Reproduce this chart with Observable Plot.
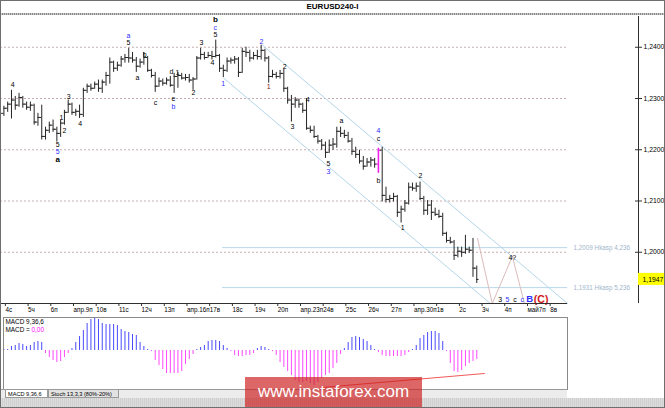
<!DOCTYPE html>
<html><head><meta charset="utf-8">
<script src="https://cdn.jsdelivr.net/npm/d3@7"></script>
<script src="https://cdn.jsdelivr.net/npm/@observablehq/plot@0.6"></script>
<style>
html,body{margin:0;padding:0;background:#fff}
#wrap{position:relative;width:665px;height:408px;overflow:hidden;background:#fff;font-family:"Liberation Sans",Arial,sans-serif}
#title{position:absolute;left:0;top:0;width:665px;height:13px;line-height:13px;text-align:center;font-weight:bold;font-size:8px;color:#000}
#sep{position:absolute;left:0;top:13px;width:665px;height:2px;background:repeating-linear-gradient(90deg,#8a8a8a 0 1px,#c4c4c4 1px 2px)}
#main{position:absolute;left:0;top:16px}
#macd{position:absolute;left:0;top:316px}
#tabs{position:absolute;left:0;top:389px;width:567px;height:9px;background:#ececec;border-top:1px solid #9a9a9a;box-sizing:border-box}
.tab{position:absolute;top:0;height:8px;line-height:8px;font-size:5.6px;color:#000;padding:0 2px;box-sizing:border-box;border:1px solid #9a9a9a;border-top:none}
#bottom{position:absolute;left:0;top:398px;width:665px;height:10px;background:repeating-linear-gradient(90deg,#cfcfcf 0 1px,#dedede 1px 2px)}
#wm{position:absolute;left:245px;top:377px;width:177px;height:31px;background:rgba(205,30,30,0.68);color:#fff;font-size:17px;line-height:30px;text-align:center;font-family:"Liberation Sans",Arial,sans-serif}
#border{position:absolute;left:0;top:0;width:665px;height:408px;border:1px solid #6e6e6e;box-sizing:border-box;pointer-events:none}
svg{display:block}
</style></head>
<body>
<div id="wrap">
  <div id="title">EURUSD240-I</div>
  <div id="sep"></div>
  <div id="main"></div>
  <div id="macd"></div>
  <div id="tabs">
    <div class="tab" style="left:5px;width:43px;background:#fff">MACD 9,36,6</div>
    <div class="tab" style="left:48px;width:71px;background:#e2e2e2">Stoch 13,3,3 (80%-20%)</div>
  </div>
  <div id="bottom"></div>
  <div id="wm">www.instaforex.com</div>
  <div id="border"></div>
</div>
<script>
// ---------- DATA ----------
const dayLabels = ["4с","5ч","6п","апр.9п","10в","11с","12ч","13п","апр.16п","17в","18с","19ч","20п","апр.23п","24в","25с","26ч","27п","апр.30п","1в","2с","3ч","4п","май7п","8в"];
const barsPerDay = 6;

const open = [1.2271,1.2281,1.2289,1.2297,1.2287,1.2302,1.2289,1.2283,1.2287,1.2254,
 1.2263,1.2226,1.2238,1.2248,1.2240,1.2232,1.2252,1.2273,1.2289,1.2273,
 1.2275,1.2269,1.2316,1.2324,1.2320,1.2328,1.2320,1.2332,1.2345,1.2371,
 1.2359,1.2365,1.2377,1.2380,1.2379,1.2375,1.2363,1.2371,1.2380,1.2355,
 1.2345,1.2324,1.2334,1.2330,1.2336,1.2326,1.2343,1.2345,1.2340,1.2341,
 1.2336,1.2338,1.2379,1.2386,1.2380,1.2384,1.2382,1.2384,1.2359,1.2355,
 1.2373,1.2375,1.2377,1.2351,1.2392,1.2390,1.2379,1.2384,1.2382,1.2394,
 1.2379,1.2343,1.2347,1.2343,1.2349,1.2320,1.2297,1.2289,1.2297,1.2289,
 1.2277,1.2242,1.2238,1.2226,1.2217,1.2209,1.2195,1.2209,1.2211,1.2236,
 1.2232,1.2228,1.2217,1.2197,1.2191,1.2178,1.2168,1.2176,1.2180,1.2172,
 1.2199,1.2111,1.2103,1.2105,1.2109,1.2078,1.2084,1.2096,1.2127,1.2125,
 1.2129,1.2105,1.2082,1.2092,1.2078,1.2074,1.2070,1.2037,1.2023,1.2020,
 1.1994,1.2002,1.2000,1.2006,1.2004,1.1969];
const high = [1.2285,1.2293,1.2316,1.2304,1.2310,1.2304,1.2293,1.2293,1.2289,1.2271,
 1.2287,1.2244,1.2254,1.2258,1.2244,1.2258,1.2277,1.2297,1.2291,1.2279,
 1.2287,1.2320,1.2328,1.2328,1.2332,1.2336,1.2336,1.2351,1.2379,1.2373,
 1.2371,1.2382,1.2386,1.2398,1.2390,1.2380,1.2377,1.2390,1.2382,1.2357,
 1.2351,1.2340,1.2338,1.2340,1.2343,1.2349,1.2351,1.2349,1.2347,1.2347,
 1.2341,1.2382,1.2398,1.2390,1.2390,1.2392,1.2414,1.2386,1.2365,1.2379,
 1.2379,1.2382,1.2380,1.2398,1.2400,1.2394,1.2390,1.2394,1.2404,1.2396,
 1.2382,1.2355,1.2351,1.2355,1.2357,1.2322,1.2306,1.2302,1.2299,1.2291,
 1.2300,1.2246,1.2246,1.2228,1.2220,1.2215,1.2219,1.2222,1.2244,1.2244,
 1.2238,1.2234,1.2222,1.2205,1.2199,1.2187,1.2183,1.2185,1.2183,1.2203,
 1.2205,1.2127,1.2111,1.2115,1.2111,1.2090,1.2101,1.2135,1.2135,1.2135,
 1.2137,1.2109,1.2101,1.2101,1.2086,1.2082,1.2076,1.2039,1.2029,1.2023,
 1.2010,1.2010,1.2033,1.2010,1.2027,1.1973];
const low = [1.2265,1.2273,1.2260,1.2277,1.2283,1.2281,1.2277,1.2275,1.2248,1.2246,
 1.2219,1.2219,1.2232,1.2234,1.2215,1.2224,1.2248,1.2271,1.2267,1.2265,
 1.2261,1.2263,1.2310,1.2314,1.2318,1.2312,1.2310,1.2324,1.2328,1.2351,
 1.2353,1.2361,1.2369,1.2369,1.2369,1.2351,1.2359,1.2365,1.2351,1.2340,
 1.2312,1.2322,1.2324,1.2326,1.2322,1.2310,1.2320,1.2336,1.2334,1.2330,
 1.2316,1.2336,1.2375,1.2375,1.2379,1.2375,1.2379,1.2351,1.2341,1.2351,
 1.2367,1.2367,1.2341,1.2349,1.2380,1.2371,1.2375,1.2375,1.2375,1.2371,
 1.2330,1.2340,1.2338,1.2338,1.2312,1.2289,1.2254,1.2281,1.2281,1.2271,
 1.2238,1.2232,1.2222,1.2211,1.2199,1.2183,1.2193,1.2199,1.2203,1.2224,
 1.2222,1.2213,1.2189,1.2183,1.2172,1.2160,1.2166,1.2166,1.2164,1.2154,
 1.2098,1.2096,1.2096,1.2098,1.2068,1.2057,1.2078,1.2092,1.2119,1.2117,
 1.2101,1.2072,1.2072,1.2062,1.2070,1.2066,1.2031,1.2018,1.2016,1.1984,
 1.1989,1.1990,1.1996,1.1998,1.1951,1.1939];
const close = [1.2281,1.2289,1.2297,1.2287,1.2302,1.2289,1.2283,1.2287,1.2254,1.2263,
 1.2226,1.2238,1.2248,1.2240,1.2232,1.2252,1.2273,1.2289,1.2273,1.2275,
 1.2269,1.2316,1.2324,1.2320,1.2328,1.2320,1.2332,1.2345,1.2371,1.2359,
 1.2365,1.2377,1.2380,1.2379,1.2375,1.2363,1.2371,1.2380,1.2355,1.2345,
 1.2324,1.2334,1.2330,1.2336,1.2326,1.2343,1.2345,1.2340,1.2341,1.2336,
 1.2338,1.2379,1.2386,1.2380,1.2384,1.2382,1.2384,1.2359,1.2355,1.2373,
 1.2375,1.2377,1.2351,1.2392,1.2390,1.2379,1.2384,1.2382,1.2394,1.2379,
 1.2343,1.2347,1.2343,1.2349,1.2320,1.2297,1.2289,1.2297,1.2289,1.2277,
 1.2242,1.2238,1.2226,1.2217,1.2209,1.2195,1.2209,1.2211,1.2236,1.2232,
 1.2228,1.2217,1.2197,1.2191,1.2178,1.2168,1.2176,1.2180,1.2172,1.2199,
 1.2111,1.2103,1.2105,1.2109,1.2078,1.2084,1.2096,1.2127,1.2125,1.2129,
 1.2105,1.2082,1.2092,1.2078,1.2074,1.2070,1.2037,1.2023,1.2020,1.1994,
 1.2002,1.2000,1.2006,1.2004,1.1969,1.1947];
const highlightBars = [99];

// MACD histogram (×0.00001 price units)
const macdHist = [1,1,4,5,7,6,4,5,8,9,
 8,-3,-7,-10,-12,-11,-7,-3,2,8,
 14,20,27,31,32,31,27,26,26,26,
 25,21,19,18,16,15,8,4,1,-1,
 -10,-15,-19,-23,-23,-23,-23,-21,-14,-9,
 -4,1,3,5,9,10,10,9,5,2,
 -1,-5,-6,-6,-5,-5,-3,2,4,3,
 1,-1,-5,-12,-17,-21,-25,-30,-32,-32,
 -31,-33,-35,-32,-28,-25,-23,-18,-13,-4,
 2,8,13,14,13,11,9,5,1,-2,
 -5,-6,-6,-6,-6,-6,-5,-2,1,5,
 12,15,18,19,19,17,9,-1,-13,-21,
 -22,-20,-16,-13,-11,-9];
const macdTrendBar = [84, 127];
const macdTrendVal = [-37, -23];

const priceTicks = [1.2000, 1.2100, 1.2200, 1.2300, 1.2400];
const fibLevels = [1.2009, 1.1931];
const fibLabels = ["1,2009 Hkasp 4,236", "1,1931 Hkasp 5,236"];
const fibStartBar = 57.8;
const chartEndBar = 149;

const channelUpperBar = [68.35, 148.97], channelUpperPrice = [1.2404, 1.1900];
const channelLowerBar = [58.05, 128.6], channelLowerPrice = [1.2340, 1.1900];
const zigzagBar = [125.2, 129.1, 134.4, 137.6];
const zigzagPrice = [1.2027, 1.1900, 1.1992, 1.1900];

const waveText  = ["4","5","5","a","1","2","3","4","a","5","b","a","c","d","e","b","1","2","3","4","5","c","b","1","2","1","2","3","4","5","3","a","4","c","b","1","2","4?","3","5","c","c","B","(C)"];
const waveBar   = [2.3,14.2,14.2,14.2,15.2,16.0,17.1,20.2,32.9,32.9,37.2,35.3,40.1,44.3,44.8,44.8,45.9,50.1,52.2,55.1,55.9,55.9,55.9,58.0,68.1,70.0,74.2,76.3,80.3,85.8,85.8,89.2,99.0,99.0,99.0,105.4,110.1,134.4,131.2,133.1,135.1,137.0,139.0,142.0];
const wavePrice = [1.2326,1.2210,1.2196,1.2181,1.2263,1.2238,1.2304,1.2250,1.2422,1.2408,1.2386,1.2340,1.2291,1.2353,1.2300,1.2283,1.2351,1.2312,1.2408,1.2369,1.2425,1.2439,1.2454,1.2328,1.2410,1.2322,1.2361,1.2244,1.2297,1.2173,1.2158,1.2256,1.2237,1.2222,1.2139,1.2047,1.2150,1.1990,1.1908,1.1908,1.1908,1.1908,1.1908,1.1908];
const waveKind  = ["k","k","blue","kb","k","k","k","k","blue","k","k","k","k","k","k","blue","k","k","k","k","k","blue","kb","blue","blue","dred","k","k","k","k","blue","k","blue","k","k","k","k","k","k","blue","k","blue","blueb","red"];

// ---------- BUILD ----------
const fmt = d => d.toFixed(4).replace(".", ",");
const bars = close.map((c, i) => ({i, o: open[i], h: high[i], l: low[i], c}));
const barColor = d => highlightBars.includes(d.i) ? "#f020f0" : "#262626";
const labels = waveText.map((t, k) => ({t, i: waveBar[k], p: wavePrice[k], kind: waveKind[k]}));
const kindColor = {k: "#000000", kb: "#000000", blue: "#2f2fff", blueb: "#2f2fff", dred: "#8a1c1c", red: "#d01818"};
const kindSize = {k: 7, kb: 8, blue: 7, blueb: 9.5, dred: 7, red: 10.5};
const isBold = d => d.kind === "kb" || d.kind === "blueb" || d.kind === "red";
const upper = channelUpperBar.map((b, k) => ({i: b, p: channelUpperPrice[k]}));
const lower = channelLowerBar.map((b, k) => ({i: b, p: channelLowerPrice[k]}));
const zig = zigzagBar.map((b, k) => ({i: b, p: zigzagPrice[k]}));
const fibs = fibLevels.map((p, k) => ({p, label: fibLabels[k]}));
const dayTicks = dayLabels.map((_, d) => d * barsPerDay);
const lastClose = close[close.length - 1];

const xDom = [-0.9, 167.75];
const yDom = [1.19, 1.246];
const pxPerBar = 638 / (xDom[1] - xDom[0]);
const pxPerPrice = 287 / (yDom[1] - yDom[0]);
const font = "Liberation Sans, Arial, sans-serif";

const main = Plot.plot({
  width: 665, height: 300,
  marginTop: 0, marginBottom: 13, marginLeft: 0, marginRight: 27,
  x: {domain: xDom, axis: null, label: null},
  y: {domain: yDom, axis: null, label: null},
  color: {type: "identity"},
  style: {fontFamily: font, background: "transparent", color: "#000"},
  marks: [
    Plot.ruleY(priceTicks, {x1: xDom[0], x2: chartEndBar, stroke: "#c6aeae", strokeDasharray: "2,2"}),
    Plot.ruleY(fibs, {y: "p", x1: fibStartBar, x2: chartEndBar, stroke: "#b8d8ea", strokeWidth: 1}),
    Plot.line(upper, {x: "i", y: "p", stroke: "#b4d6ea", strokeWidth: 1}),
    Plot.line(lower, {x: "i", y: "p", stroke: "#b4d6ea", strokeWidth: 1}),
    Plot.line(zig, {x: "i", y: "p", stroke: "#dcbcbc", strokeWidth: 1}),
    Plot.ruleX(bars, {x: "i", y1: "l", y2: "h", stroke: barColor, strokeWidth: d => highlightBars.includes(d.i) ? 1.6 : 1}),
    Plot.ruleY(bars, {y: "o", x1: d => d.i - 0.6, x2: "i", stroke: barColor}),
    Plot.ruleY(bars, {y: "c", x1: "i", x2: d => d.i + 0.6, stroke: barColor}),
    Plot.text(fibs, {x: chartEndBar, y: "p", text: "label", textAnchor: "start", dx: 6, fill: "#9fb6cc", fontSize: 6.3}),
    Plot.text(labels.filter(d => !isBold(d)), {x: "i", y: "p", text: "t", fill: d => kindColor[d.kind], fontSize: d => kindSize[d.kind]}),
    Plot.text(labels.filter(isBold), {x: "i", y: "p", text: "t", fill: d => kindColor[d.kind], fontSize: d => kindSize[d.kind], fontWeight: "bold"}),
    Plot.ruleY([yDom[0]], {x1: xDom[0], x2: chartEndBar, stroke: "#303030"}),
    Plot.axisX({ticks: dayTicks, anchor: "bottom", label: null, tickSize: 3, tickPadding: 1, tickFormat: d => dayLabels[d / barsPerDay], textAnchor: "start", dx: 1.5, fontSize: 6.3, stroke: "#303030"}),
    Plot.ruleX([xDom[1]], {stroke: "#303030"}),
    Plot.ruleY(priceTicks, {x1: xDom[1] - 3 / pxPerBar, x2: xDom[1], stroke: "#303030"}),
    Plot.axisY({ticks: priceTicks, anchor: "right", label: null, tickSize: 3, tickPadding: 2, tickFormat: fmt, fontSize: 6.8, stroke: "#303030"}),
    Plot.rect([lastClose], {x1: xDom[1], x2: xDom[1] + 27 / pxPerBar, y1: d => d - 6 / pxPerPrice, y2: d => d + 6 / pxPerPrice, fill: "#ffff00"}),
    Plot.text([lastClose], {y: d => d, frameAnchor: "right", text: fmt, textAnchor: "start", dx: 4, fontSize: 6.8, fill: "#000"})
  ]
});
document.getElementById("main").appendChild(main);

const hist = macdHist.map((v, i) => ({i, v}));
const trend = macdTrendBar.map((b, k) => ({i: b, v: macdTrendVal[k]}));
const macd = Plot.plot({
  width: 665, height: 75,
  marginTop: 1, marginBottom: 2, marginLeft: 3, marginRight: 98,
  x: {domain: [-0.106, 148.98], axis: null, label: null},
  y: {domain: [-39, 33], axis: null, label: null},
  color: {type: "identity"},
  style: {fontFamily: font, background: "transparent"},
  marks: [
    Plot.ruleX(hist, {x: "i", y1: 0, y2: "v", stroke: d => d.v >= 0 ? "#4a4aff" : "#ff48ff"}),
    Plot.line(trend, {x: "i", y: "v", stroke: "#f05a5a", strokeWidth: 1.2}),
    Plot.frame({stroke: "#8a8a8a"}),
    Plot.text(["MACD 9,36,6"], {text: d => d, frameAnchor: "top-left", dx: 2, dy: 2, fontSize: 6.4, fill: "#000"}),
    Plot.text(["MACD ="], {text: d => d, frameAnchor: "top-left", dx: 2, dy: 9.5, fontSize: 6.4, fill: "#000"}),
    Plot.text(["0,00"], {text: d => d, frameAnchor: "top-left", dx: 28, dy: 9.5, fontSize: 6.4, fill: "#ff00ff"})
  ]
});
document.getElementById("macd").appendChild(macd);
</script>
</body></html>
